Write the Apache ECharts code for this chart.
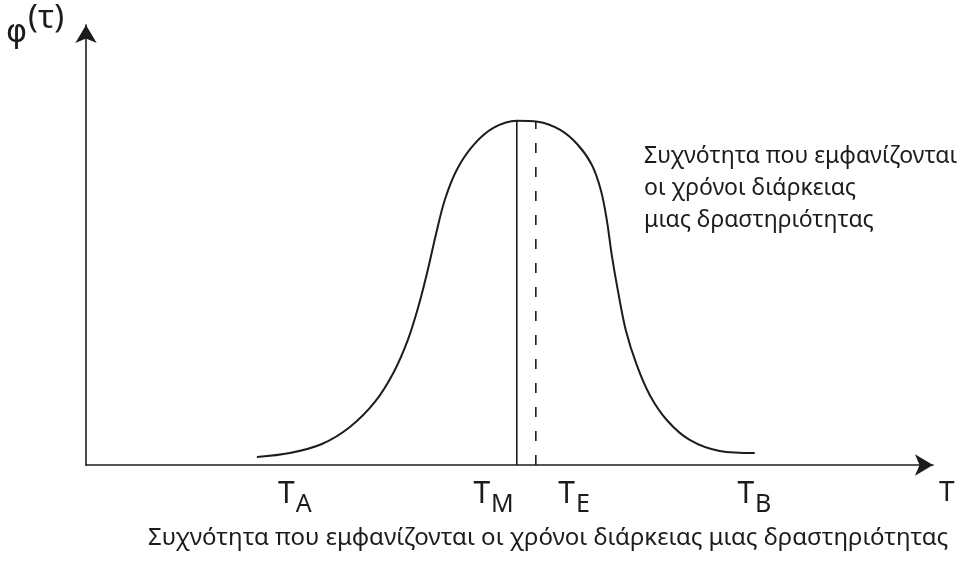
<!DOCTYPE html>
<html>
<head>
<meta charset="utf-8">
<script src="https://cdn.jsdelivr.net/npm/echarts@6/dist/echarts.min.js"></script>
<style>
  html, body { margin: 0; padding: 0; background: #fff; }
  #chart { width: 964px; height: 562px; }
</style>
</head>
<body>
<div id="chart"></div>
<script>
// Bell-shaped frequency curve of activity durations
const curveX = [20.38, 24.31, 28.13, 31.47, 34.45, 36.71, 38.38, 39.69, 40.76, 41.72, 42.79, 44.22, 46.25, 48.63, 51.37,
                53.87, 56.50, 58.64, 60.31, 61.38, 62.10, 62.69, 63.41, 64.36, 65.67, 67.22, 69.25, 71.99, 75.57, 79.74];
const curveY = [1.86, 2.78, 4.87, 8.82, 14.62, 21.58, 29.00, 37.12, 45.24, 53.36, 61.48, 68.45, 74.25, 78.19, 79.81,
                79.58, 77.73, 74.25, 69.61, 63.81, 56.84, 48.72, 40.60, 31.32, 23.20, 16.24, 10.44, 5.80, 3.25, 2.78];

// Mode (solid) and mean (dashed) markers
const modeX = 51.37, modeTop = 79.81;
const meanX = 53.64, meanTop = 79.6;

// Tick labels on the time axis: T with subscripts
const tickValues = [24.9, 48.6, 58.2, 79.7];
const tickSubs = ['A', 'M', 'E', 'B'];

const axisName = 'T';
const yName = ['φ', '(τ)'];
const noteLines = ['Συχνότητα που εμφανίζονται', 'οι χρόνοι διάρκειας', 'μιας δραστηριότητας'];
const caption = 'Συχνότητα που εμφανίζονται οι χρόνοι διάρκειας μιας δραστηριότητας';

const FONT = '"Noto Sans", "DejaVu Sans", sans-serif';
const INK = '#1c1c1c';

const chart = echarts.init(document.getElementById('chart'), null, { renderer: 'canvas' });

chart.setOption({
  backgroundColor: '#ffffff',
  animation: false,
  grid: { left: 86, right: 31, top: 25, bottom: 97 },
  xAxis: {
    type: 'value', min: 0, max: 101,
    name: axisName,
    nameLocation: 'end',
    nameGap: 6,
    nameTextStyle: { fontFamily: FONT, fontSize: 28, color: INK, align: 'left', verticalAlign: 'top', padding: [14, 0, 0, 0] },
    axisLine: { show: true, symbol: ['none', 'arrow'], symbolSize: [16, 18], lineStyle: { color: INK, width: 1.6 } },
    axisTick: { show: false },
    splitLine: { show: false },
    axisLabel: {
      show: true,
      customValues: tickValues,
      margin: 14,
      formatter: function (v) {
        const i = tickValues.indexOf(v);
        return i < 0 ? '' : '{t|T}{s|' + tickSubs[i] + '}';
      },
      rich: {
        t: { fontFamily: FONT, fontSize: 30, color: INK, verticalAlign: 'top', lineHeight: 30 },
        s: { fontFamily: FONT, fontSize: 25, color: INK, verticalAlign: 'top', lineHeight: 30, padding: [13, 0, 0, 1] }
      }
    }
  },
  yAxis: {
    type: 'value', min: 0, max: 102,
    axisLine: { show: true, symbol: ['none', 'arrow'], symbolSize: [16, 18], lineStyle: { color: INK, width: 1.6 } },
    axisTick: { show: false },
    axisLabel: { show: false },
    splitLine: { show: false }
  },
  series: [
    {
      type: 'line',
      data: curveX.map((x, i) => [x, curveY[i]]),
      smooth: 0.35,
      symbol: 'none',
      lineStyle: { color: INK, width: 2 }
    },
    {
      type: 'line',
      data: [[modeX, 0], [modeX, modeTop]],
      symbol: 'none',
      lineStyle: { color: INK, width: 1.6 }
    },
    {
      type: 'line',
      data: [[meanX, 0], [meanX, meanTop]],
      symbol: 'none',
      lineStyle: { color: INK, width: 1.6, type: [10, 14] }
    }
  ],
  graphic: [
    {
      type: 'text', left: 6, top: 2,
      style: {
        text: '{a|' + yName[0] + '}{b|' + yName[1] + '}',
        rich: {
          a: { fontFamily: '"DejaVu Sans", sans-serif', fontSize: 32, fill: INK, verticalAlign: 'top', lineHeight: 42, padding: [16, 1, 0, 0] },
          b: { fontFamily: FONT, fontSize: 33, fill: INK, verticalAlign: 'top', lineHeight: 42 }
        }
      }
    },
    {
      type: 'text', left: 644, top: 140,
      style: { text: noteLines.join('\n'), fontFamily: FONT, fontSize: 23, lineHeight: 32, fill: INK }
    },
    {
      type: 'text', left: 148, top: 526,
      style: { text: caption, fontFamily: FONT, fontSize: 24, fill: INK }
    }
  ]
});
</script>
</body>
</html>
